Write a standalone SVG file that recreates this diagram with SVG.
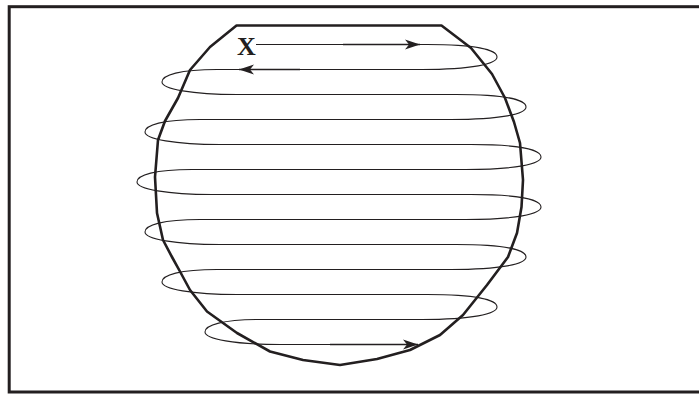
<svg xmlns="http://www.w3.org/2000/svg" width="699" height="394" viewBox="0 0 699 394">
  <style>
    .frame { fill: none; stroke: #231f20; stroke-width: 3; }
    .outline { fill: none; stroke: #231f20; stroke-width: 2.6; stroke-linejoin: round; }
    .path { fill: none; stroke: #231f20; stroke-width: 1.1; }
    .arrow { fill: none; stroke: #231f20; stroke-width: 1.4; }
    .label { font-family: "Liberation Serif", "Times New Roman", serif; font-weight: bold; font-size: 26px; fill: #231f20; }
  </style>
  <defs>
    <marker id="ah" markerUnits="userSpaceOnUse" markerWidth="18" markerHeight="12" viewBox="-16 -6 18 12" refX="0" refY="0" orient="auto">
      <path d="M0,0 L-15,-5 L-11,0 L-15,5 Z" fill="#231f20"/>
    </marker>
  </defs>
  <rect class="frame" x="9.2" y="6.7" width="700" height="385.3"/>
  <g id="workpiece">
    <polygon class="outline" points="236.5,25.5 441.5,25.5 471,48 492,74 505,98 514,122 520,143 523,180 521.5,207 517,233 508,257 487,285 463,315 440,335 410,350 377,359 340,365 303,360 270,351.5 237,333 207,311.5 190,290 180,271.5 172,257 163,240 157,213 155,177 158,140 165,121 178,98 190,70 210,47"/>
  </g>
  <g id="label-x">
    <text class="label" x="237" y="55">X</text>
  </g>
  <g id="connectors">
    <path class="path" d="M 256,44.5 H 427 C 477,44.5 497,50 497,57 C 497,64 472,69.5 422,69.5 H 217 C 180,69.5 162,75 162,82 C 162,89 192,94.5 237,94.5 H 456 C 506,94.5 526,100 526,107 C 526,114 501,119.5 451,119.5 H 200 C 163,119.5 145,125 145,132 C 145,139 175,144.5 220,144.5 H 471 C 521,144.5 541,150 541,157 C 541,164 516,169.5 466,169.5 H 192 C 155,169.5 137,175 137,182 C 137,189 167,194.5 212,194.5 H 471 C 521,194.5 541,200 541,207 C 541,214 516,219.5 466,219.5 H 200 C 163,219.5 145,225 145,232 C 145,239 175,244.5 220,244.5 H 456 C 506,244.5 526,250 526,257 C 526,264 501,269.5 451,269.5 H 217 C 180,269.5 162,275 162,282 C 162,289 192,294.5 237,294.5 H 427 C 477,294.5 497,300 497,307 C 497,314 472,319.5 422,319.5 H 260 C 223,319.5 205,325 205,332 C 205,339 235,344.5 280,344.5 H 405"/>
    <path class="arrow" d="M 343,44.5 H 420" marker-end="url(#ah)"/>
    <path class="arrow" d="M 300,69.5 H 239" marker-end="url(#ah)"/>
    <path class="arrow" d="M 330,344.5 H 418" marker-end="url(#ah)"/>
  </g>
</svg>
